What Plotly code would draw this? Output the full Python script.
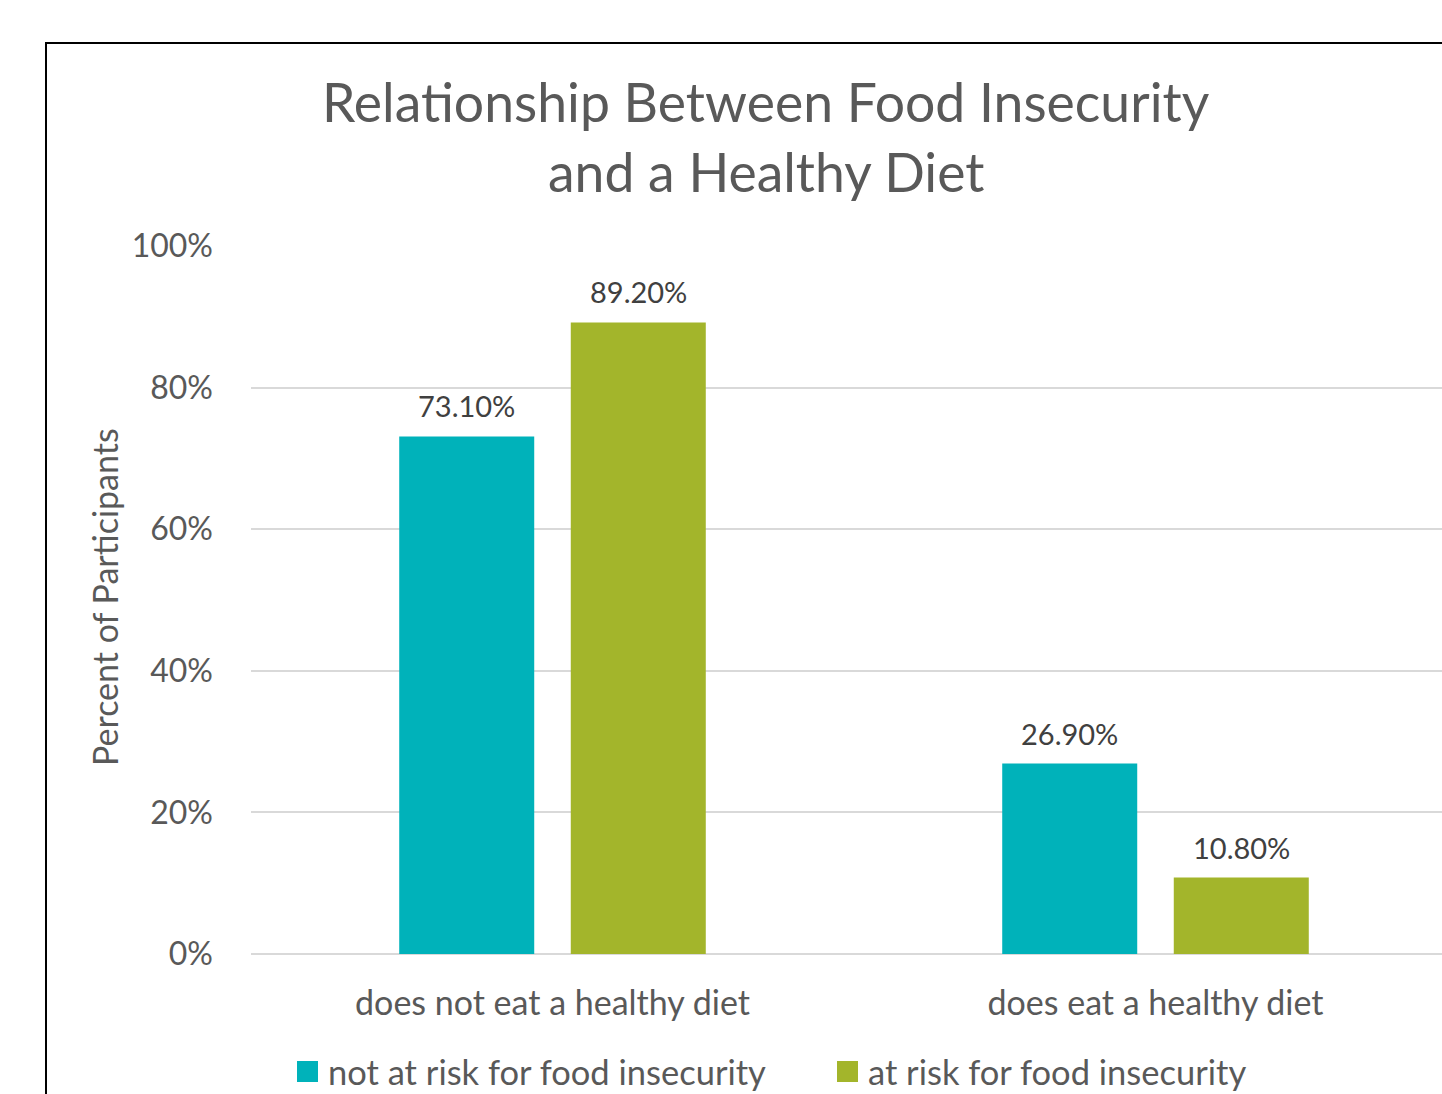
import plotly.graph_objects as go

# Chart data
categories = ["does not eat a healthy diet", "does eat a healthy diet"]
series_names = ["not at risk for food insecurity", "at risk for food insecurity"]
not_at_risk = [73.1, 26.9]
at_risk = [89.2, 10.8]
series_values = [not_at_risk, at_risk]
colors = ["#00B2BA", "#A3B52B"]
y_ticks = [0, 20, 40, 60, 80, 100]

W, H = 1442, 1094
L, R, T, B = 251, 0, 246, 140
PW, PH = W - L - R, H - T - B
FONT = "Lato"


def px_x(px):
    return (px - L) / PW


def px_y(py):
    return (H - B - py) / PH


fig = go.Figure()
for name, vals, col in zip(series_names, series_values, colors):
    fig.add_trace(go.Bar(
        x=categories, y=vals, name=name,
        marker=dict(color=col, line=dict(width=0)),
        showlegend=False,
    ))

# Value labels above each bar
offset = 85.75
for i, (vals, col) in enumerate(zip(series_values, colors)):
    sign = -1 if i == 0 else 1
    for cat, v in zip(categories, vals):
        fig.add_annotation(
            x=cat, y=v, xref="x", yref="y", xshift=sign * offset, yshift=11,
            text=f"{v:.2f}%", showarrow=False, yanchor="bottom",
            font=dict(family=FONT, size=29, color="#404040"),
        )

# Title, two lines
fig.add_annotation(x=px_x(766), y=px_y(101), xref="paper", yref="paper",
                   text="Relationship Between Food Insecurity", showarrow=False,
                   font=dict(family=FONT, size=53.5, color="#595959"), yanchor="middle")
fig.add_annotation(x=px_x(766), y=px_y(171), xref="paper", yref="paper",
                   text="and a Healthy Diet", showarrow=False,
                   font=dict(family=FONT, size=53.5, color="#595959"), yanchor="middle")

# Y axis title
fig.add_annotation(x=px_x(104), y=px_y(597), xref="paper", yref="paper",
                   text="Percent of Participants", textangle=-90, showarrow=False,
                   xanchor="center", yanchor="middle",
                   font=dict(family=FONT, size=34, color="#595959"))

# Legend entries
legend_pos = [(297, 326), (837, 866)]
for (sx, tx), name, col in zip(legend_pos, series_names, colors):
    fig.add_shape(type="rect", xref="paper", yref="paper",
                  x0=px_x(sx), x1=px_x(sx + 21), y0=px_y(1082), y1=px_y(1061),
                  fillcolor=col, line=dict(width=0))
    fig.add_annotation(x=px_x(tx), y=px_y(1071), xref="paper", yref="paper",
                       text=name, showarrow=False, xanchor="left", yanchor="middle",
                       font=dict(family=FONT, size=34.5, color="#595959"))

# Outer chart border
fig.add_shape(type="rect", xref="paper", yref="paper",
              x0=px_x(46), x1=px_x(1460), y0=px_y(1110), y1=px_y(43),
              line=dict(color="#000000", width=2), fillcolor="rgba(0,0,0,0)", layer="below")

fig.update_layout(
    width=W, height=H,
    margin=dict(l=L, r=R, t=T, b=B, autoexpand=False),
    paper_bgcolor="white", plot_bgcolor="white",
    barmode="group", bargap=0.431, bargroupgap=0.213,
    font=dict(family=FONT, color="#595959"),
)
fig.update_xaxes(
    range=[-0.5, -0.5 + PW / 603.0], showgrid=False, showline=False, zeroline=False,
    ticks="", ticklabelstandoff=26, tickfont=dict(family=FONT, size=34, color="#595959"),
)
fig.update_yaxes(
    range=[0, 100], tickvals=y_ticks, ticktext=[f"{t}%" for t in y_ticks],
    showgrid=True, gridcolor="#D9D9D9", gridwidth=2,
    zeroline=True, zerolinecolor="#D9D9D9", zerolinewidth=2, showline=False,
    ticks="", ticklabelstandoff=37, tickfont=dict(family=FONT, size=32, color="#595959"),
)

fig.write_html("out.html")
